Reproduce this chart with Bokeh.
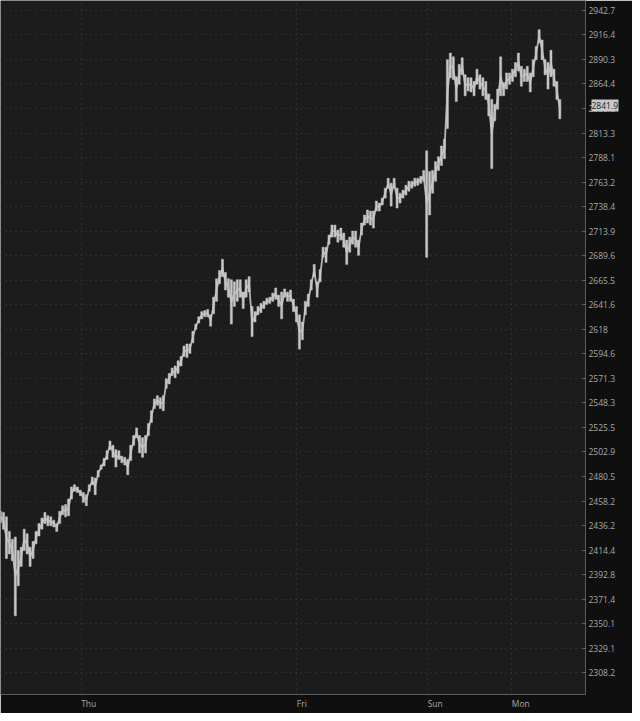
from bokeh.plotting import figure
from bokeh.models import (FixedTicker, CustomJSTickFormatter, Range1d,
                          ColumnDataSource, LogAxis)
from bokeh.embed import file_html
from bokeh.resources import INLINE

# ---- data (price bars) ----
bar_high = [2449, 2448, 2444, 2431, 2424, 2426, 2414, 2417, 2433, 2429,
            2417, 2422, 2431, 2438, 2443, 2448, 2445, 2444, 2441, 2438,
            2449, 2454, 2455, 2460, 2471, 2473, 2471, 2468, 2466, 2464,
            2473, 2480, 2479, 2486, 2491, 2497, 2504, 2513, 2509, 2505,
            2504, 2499, 2498, 2496, 2509, 2518, 2525, 2518, 2516, 2518,
            2529, 2541, 2552, 2555, 2553, 2555, 2571, 2576, 2581, 2583,
            2588, 2592, 2602, 2604, 2604, 2616, 2623, 2630, 2635, 2636,
            2637, 2632, 2649, 2667, 2675, 2686, 2673, 2667, 2666, 2664,
            2666, 2666, 2654, 2666, 2669, 2640, 2635, 2640, 2643, 2645,
            2648, 2649, 2653, 2658, 2651, 2654, 2657, 2654, 2656, 2647,
            2640, 2632, 2625, 2645, 2652, 2666, 2681, 2664, 2676, 2698,
            2698, 2710, 2720, 2720, 2715, 2717, 2712, 2705, 2708, 2714,
            2714, 2705, 2722, 2730, 2735, 2734, 2734, 2744, 2742, 2747,
            2757, 2767, 2762, 2767, 2757, 2752, 2755, 2760, 2764, 2764,
            2767, 2767, 2769, 2775, 2795, 2774, 2775, 2784, 2789, 2800,
            2807, 2890, 2897, 2893, 2872, 2885, 2892, 2874, 2871, 2871,
            2867, 2880, 2874, 2871, 2867, 2854, 2848, 2843, 2859, 2893,
            2866, 2876, 2876, 2880, 2887, 2897, 2883, 2880, 2883, 2876,
            2890, 2904, 2922, 2911, 2890, 2887, 2900, 2880, 2867, 2848]

bar_low = [2439, 2433, 2407, 2411, 2405, 2357, 2383, 2400, 2414, 2411,
           2400, 2407, 2420, 2427, 2433, 2438, 2436, 2436, 2435, 2431,
           2438, 2446, 2444, 2445, 2460, 2467, 2466, 2463, 2457, 2454,
           2467, 2473, 2464, 2480, 2487, 2490, 2496, 2505, 2498, 2489,
           2496, 2493, 2491, 2482, 2495, 2509, 2516, 2502, 2498, 2502,
           2518, 2530, 2543, 2546, 2543, 2541, 2562, 2566, 2574, 2572,
           2576, 2583, 2592, 2591, 2595, 2605, 2618, 2624, 2628, 2630,
           2630, 2621, 2633, 2645, 2662, 2669, 2656, 2649, 2623, 2640,
           2645, 2649, 2638, 2649, 2654, 2611, 2625, 2632, 2634, 2638,
           2642, 2643, 2645, 2647, 2640, 2628, 2649, 2645, 2645, 2635,
           2625, 2599, 2608, 2632, 2640, 2656, 2669, 2649, 2664, 2688,
           2683, 2701, 2708, 2708, 2703, 2705, 2698, 2681, 2693, 2701,
           2698, 2690, 2710, 2720, 2722, 2720, 2717, 2734, 2734, 2740,
           2747, 2757, 2739, 2757, 2737, 2742, 2747, 2750, 2754, 2757,
           2759, 2760, 2762, 2764, 2688, 2730, 2752, 2764, 2775, 2780,
           2787, 2818, 2871, 2869, 2846, 2864, 2874, 2852, 2857, 2856,
           2852, 2864, 2859, 2852, 2848, 2831, 2777, 2826, 2838, 2852,
           2852, 2859, 2864, 2867, 2872, 2878, 2862, 2867, 2867, 2856,
           2872, 2890, 2908, 2890, 2874, 2859, 2872, 2862, 2848, 2828]

last_price = 2841.9

price_ticks = [2308.2, 2329.1, 2350.1, 2371.4, 2392.8, 2414.4, 2436.2,
               2458.2, 2480.5, 2502.9, 2525.5, 2548.3, 2571.3, 2594.6,
               2618.0, 2641.6, 2665.5, 2689.6, 2713.9, 2738.4, 2763.2,
               2788.1, 2813.3, 2838.8, 2864.4, 2890.3, 2916.4, 2942.7]

day_labels = ["Thu", "Fri", "Sun", "Mon"]
day_ticks = [27.33, 100.0, 144.33, 172.67]      # bar index where each day starts
day_label_pos = [29.8, 101.8, 146.9, 175.8]     # labels sit just right of the line

LABEL_COLOR = "#a9a9a9"
FONT = "Open Sans"
FONT_SIZE = "8.5px"

# ---- figure ----
bars = ColumnDataSource(dict(
    x=list(range(len(bar_high))),
    high=bar_high,
    low=bar_low,
    mid=[(h + l) / 2 for h, l in zip(bar_high, bar_low)],
))

p = figure(frame_width=585, frame_height=694,
           x_range=Range1d(0, 197.67), y_range=Range1d(2289.9, 2953.4),
           y_axis_type="log", y_axis_location="right",
           output_backend="svg", toolbar_location=None,
           min_border_left=0, min_border_top=0,
           min_border_right=47, min_border_bottom=19)

p.background_fill_color = "#1c1c1c"
p.border_fill_color = "#0f0f0f"
p.outline_line_color = None

p.line("x", "mid", source=bars, line_color="#b4b4b4", line_width=1.8)
p.vbar(x="x", top="high", bottom="low", width=0.7, source=bars,
       fill_color="#c6c6c6", line_color="#c6c6c6", line_width=0.5)

# y axis (right)
ya = p.yaxis[0]
ya.ticker = FixedTicker(ticks=price_ticks, minor_ticks=[])
ya.formatter = CustomJSTickFormatter(
    code="return (Math.abs(tick - Math.round(tick)) < 1e-6) ? tick.toFixed(0) : tick.toFixed(1);")
ya.axis_line_color = "#5c5c5c"
ya.major_tick_line_color = "#6a6a6a"
ya.major_tick_in = 3
ya.major_tick_out = 0
ya.minor_tick_line_color = None
ya.major_label_standoff = 3
ya.major_label_text_color = LABEL_COLOR
ya.major_label_text_font = FONT
ya.major_label_text_font_size = FONT_SIZE

# last-price badge: a thick tick drawn back over the label column (box) ...
badge_box = LogAxis(ticker=FixedTicker(ticks=[last_price], minor_ticks=[]),
                    formatter=CustomJSTickFormatter(code="return '';"),
                    axis_line_color=None,
                    major_tick_in=27, major_tick_out=0,
                    major_tick_line_color="#c9c9c9",
                    major_tick_line_width=12,
                    major_tick_line_cap="butt",
                    minor_tick_line_color=None,
                    major_label_text_color=None,
                    major_label_standoff=0)
p.add_layout(badge_box, "right")

# ... and its text, pulled back onto the box
badge_text = LogAxis(ticker=FixedTicker(ticks=[last_price], minor_ticks=[]),
                     formatter=CustomJSTickFormatter(code="return tick.toFixed(1);"),
                     axis_line_color=None,
                     major_tick_in=0, major_tick_out=0,
                     major_tick_line_color=None,
                     minor_tick_line_color=None,
                     major_label_standoff=-27,
                     major_label_text_color="#1e1e1e",
                     major_label_text_font=FONT,
                     major_label_text_font_size=FONT_SIZE)
p.add_layout(badge_text, "right")

# x axis (bottom)
xa = p.xaxis[0]
xa.ticker = FixedTicker(ticks=day_label_pos, minor_ticks=[])
xa.formatter = CustomJSTickFormatter(
    args=dict(pos=day_label_pos, names=day_labels),
    code="""
    let best = 0;
    for (let i = 1; i < pos.length; i++) {
        if (Math.abs(pos[i] - tick) < Math.abs(pos[best] - tick)) best = i;
    }
    return names[best];
    """)
xa.axis_line_color = "#5c5c5c"
xa.major_tick_line_color = None
xa.minor_tick_line_color = None
xa.major_tick_out = 0
xa.major_tick_in = 0
xa.major_label_standoff = 3
xa.major_label_text_color = LABEL_COLOR
xa.major_label_text_font = FONT
xa.major_label_text_font_size = FONT_SIZE

# grids
p.xgrid[0].ticker = FixedTicker(ticks=day_ticks, minor_ticks=[])
for g in (p.xgrid[0], p.ygrid[0]):
    g.grid_line_color = "#404040"
    g.grid_line_dash = "1 4"
    g.grid_line_width = 1

open("out.html", "w").write(file_html(p, INLINE))
